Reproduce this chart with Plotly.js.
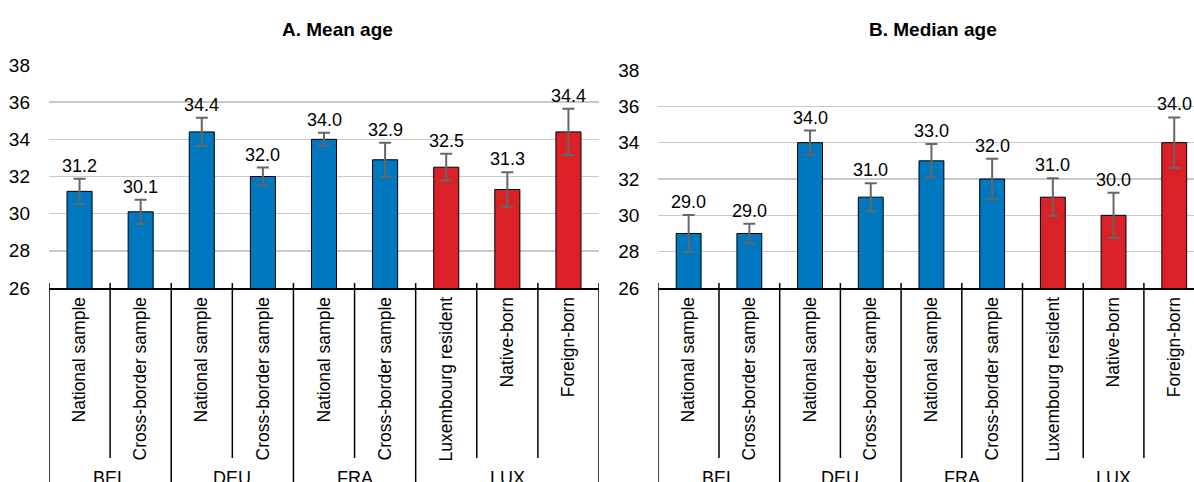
<!DOCTYPE html>
<html>
<head>
<meta charset="utf-8">
<script src="https://cdn.plot.ly/plotly-3.0.1.min.js"></script>
<style>html,body{margin:0;padding:0;background:#fff;}#chart{width:1194px;height:482px;}</style>
</head>
<body>
<div id="chart"></div>
<script>
// Data
const categories = ["National sample", "Cross-border sample", "National sample", "Cross-border sample", "National sample", "Cross-border sample", "Luxembourg resident", "Native-born", "Foreign-born"];
const groups = ["BEL", "BEL", "DEU", "DEU", "FRA", "FRA", "LUX", "LUX", "LUX"];
const groupNames = ["BEL", "DEU", "FRA", "LUX"];
const meanAge = [31.2, 30.1, 34.4, 32.0, 34.0, 32.9, 32.5, 31.3, 34.4];
const meanErr = [0.68, 0.65, 0.76, 0.48, 0.35, 0.92, 0.72, 0.93, 1.24];
const medianAge = [29.0, 29.0, 34.0, 31.0, 33.0, 32.0, 31.0, 30.0, 34.0];
const medianErr = [1.02, 0.54, 0.67, 0.77, 0.92, 1.12, 1.04, 1.25, 1.39];
const yTicks = [26, 28, 30, 32, 34, 36, 38];
const titles = ["A. Mean age", "B. Median age"];

const BLUE = "#0078BF", RED = "#DA2128";
const FONT = "Liberation Sans, Arial, sans-serif";
const idx = categories.map((c, i) => i);
const colors = groups.map(g => g === "LUX" ? RED : BLUE);

function barTrace(vals, errs, xa, ya) {
  return {
    type: "bar", x: idx, y: vals, xaxis: xa, yaxis: ya,
    marker: {color: colors, line: {color: "#000", width: 1}},
    error_y: {type: "data", array: errs, visible: true, color: "#666666", thickness: 2, width: 6},
    hoverinfo: "skip", showlegend: false
  };
}

const data = [barTrace(meanAge, meanErr, "x", "y"), barTrace(medianAge, medianErr, "x2", "y2")];

const axisBottom = (482 - 288) / 482;
const innerEnd = (482 - 458) / 482;

function xAxis(domain, range, anchor) {
  return {
    domain: domain, range: range, anchor: anchor, type: "linear",
    tickmode: "array", tickvals: idx, ticktext: categories,
    tickangle: -90, tickfont: {family: FONT, size: 17.5, color: "#000"},
    ticks: "", showgrid: false, zeroline: false,
    showline: true, linecolor: "#000", linewidth: 2,
    ticklabelstandoff: 0, fixedrange: true
  };
}
function yAxis(domain, anchor) {
  return {
    domain: domain, range: [26, 38], anchor: anchor,
    tickmode: "array", tickvals: yTicks, ticktext: yTicks.map(String),
    tickfont: {family: FONT, size: 19, color: "#000"},
    showgrid: true, gridcolor: "#c9c9c9", gridwidth: 1.5,
    zeroline: false, showline: false, ticks: "", ticklabelstandoff: 18, fixedrange: true
  };
}

const shapes = [];
const annotations = [];
function panelDecor(xref, vals, errs) {
  for (let k = 0; k <= categories.length; k++) {
    const isGroupEdge = (k === 0 || k === categories.length || groups[k] !== groups[k - 1]);
    shapes.push({type: "line", xref: xref, yref: "paper", x0: k - 0.5, x1: k - 0.5,
      y0: axisBottom + 5 / 482, y1: isGroupEdge ? 0 : innerEnd, line: {color: "#000", width: 1.5}});
  }
  groupNames.forEach(g => {
    const members = idx.filter(i => groups[i] === g);
    const center = (members[0] + members[members.length - 1]) / 2;
    annotations.push({xref: xref, yref: "paper", x: center, y: 4 / 482, xanchor: "center", yanchor: "middle",
      text: g, showarrow: false, font: {family: FONT, size: 18, color: "#000"}});
  });
  vals.forEach((v, i) => {
    annotations.push({xref: xref, yref: xref.replace("x", "y"), x: i, y: v + errs[i], xanchor: "center", yanchor: "middle", yshift: 13,
      text: v.toFixed(1), showarrow: false, font: {family: FONT, size: 18, color: "#000"}});
  });
}
panelDecor("x", meanAge, meanErr);
panelDecor("x2", medianAge, medianErr);

annotations.push({xref: "paper", yref: "paper", x: 337 / 1194, y: (482 - 29) / 482, xanchor: "center", yanchor: "middle",
  text: "<b>" + titles[0] + "</b>", showarrow: false, font: {family: FONT, size: 19, color: "#000"}});
annotations.push({xref: "paper", yref: "paper", x: 933 / 1194, y: (482 - 29) / 482, xanchor: "center", yanchor: "middle",
  text: "<b>" + titles[1] + "</b>", showarrow: false, font: {family: FONT, size: 19, color: "#000"}});

const layout = {
  width: 1194, height: 482,
  margin: {l: 0, r: 0, t: 0, b: 0},
  paper_bgcolor: "#fff", plot_bgcolor: "rgba(0,0,0,0)",
  bargap: 0.59,
  font: {family: FONT, color: "#000"},
  xaxis: xAxis([49 / 1194, 599 / 1194], [-0.5, 8.5], "y"),
  yaxis: yAxis([axisBottom, (482 - 65) / 482], "x"),
  xaxis2: xAxis([658.3 / 1194, 1], [-0.5, 8.5 - (1204.6 - 1194) / 60.7], "y2"),
  yaxis2: yAxis([axisBottom, (482 - 70) / 482], "x2"),
  shapes: shapes, annotations: annotations
};

Plotly.newPlot("chart", data, layout, {staticPlot: true, displayModeBar: false});
</script>
</body>
</html>
